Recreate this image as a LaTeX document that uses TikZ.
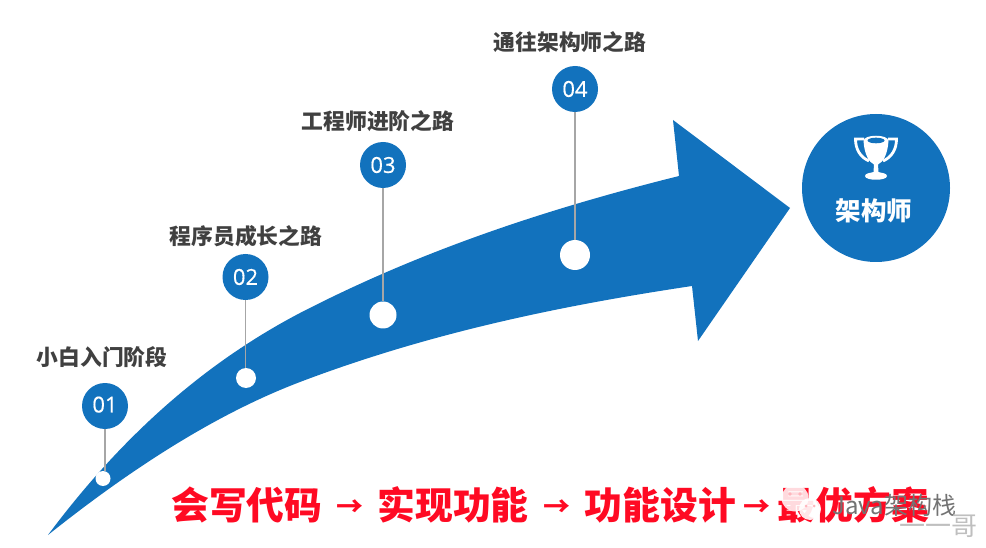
\documentclass[tikz,border=0pt]{standalone}
\usepackage{fontspec}
\setmainfont{Noto Sans CJK SC}
\newfontfamily\numfont[FakeBold=0.4]{Open Sans}
\usetikzlibrary{positioning, calc}
\definecolor{roadblue}{HTML}{1272BD}
\definecolor{roadred}{HTML}{FF0A23}
\definecolor{labelgray}{HTML}{404040}
\newcommand{\roadarrow}[1]{\makebox[#1]{\raisebox{3pt}{\fontsize{27}{27}\selectfont→}}}
\tikzset{
  numdot/.style  = {circle, fill=roadblue, text=white, minimum size=46pt, inner sep=0pt,
                    font=\fontsize{22}{22}\selectfont\numfont},
  stopdot/.style = {circle, fill=white, inner sep=0pt},
  stem/.style    = {draw=black!35, line width=1.7pt},
  stage/.style   = {font=\fontsize{21.8}{22}\selectfont\bfseries, text=labelgray, inner sep=0pt},
  goal/.style    = {circle, fill=roadblue, minimum size=148pt, inner sep=0pt},
  slogan/.style  = {font=\fontsize{37.8}{38}\selectfont\bfseries, text=roadred, inner sep=0pt}
}
\begin{document}
\begin{tikzpicture}[x=1pt, y=-1pt]
\useasboundingbox (0,0) rectangle (986,548);
\fill[roadblue] (48,535) .. controls (130,425) and (216,357) .. (300,313)
  .. controls (426,248) and (553,207.5) .. (679,176)
  -- (673,120) -- (790,208) -- (698,341) -- (692,286)
  .. controls (562,305.5) and (430,332.6) .. (300,382)
  .. controls (216,414) and (132,468) .. cycle;
\node[numdot] (n1) at (105,406) {\raisebox{3pt}{01}};
\node[numdot] (n2) at (245.5,277) {02};
\node[numdot] (n3) at (383,165) {03};
\node[numdot] (n4) at (575,89) {04};
\node[stopdot, minimum size=15pt] (d1) at (103,478.5) {};
\node[stopdot, minimum size=20pt] (d2) at (246,378) {};
\node[stopdot, minimum size=27pt] (d3) at (383,315) {};
\node[stopdot, minimum size=30pt] (d4) at (575,255) {};
\draw[stem] (n1) -- (n1 |- d1.north);
\draw[stem] (n2) -- (n2 |- d2.north);
\draw[stem] (n3) -- (d3);
\draw[stem] (n4) -- (d4);
\node[stage] (s1) at (102,357) {小白入门阶段};
\node[stage] (s2) at (246,236) {程序员成长之路};
\node[stage] (s3) at (378,121) {工程师进阶之路};
\node[stage] (s4) at (570,42) {通往架构师之路};
\node[goal] (arch) at (876,188) {};
\node[font=\fontsize{25.5}{26}\selectfont\bfseries, text=white, inner sep=0pt] (archname) at (874,211) {架构师};
\draw[white, line width=2.8pt] (864,139) -- (855.5,139) .. controls (855.5,149) and (860,157) .. (869,161);
\draw[white, line width=2.8pt] (888,139) -- (896.5,139) .. controls (896.5,149) and (892,157) .. (883,161);
\fill[white] (863.5,141) .. controls (864.5,155) and (869,162) .. (874,164.5) -- (873.5,172)
  .. controls (871,173) and (865,173) .. (865,176) .. controls (865,181) and (887,181) .. (887,176)
  .. controls (887,173) and (881,173) .. (878.5,172) -- (878,164.5)
  .. controls (883,162) and (887.5,155) .. (888.5,141) .. controls (888.5,134) and (863.5,134) .. (863.5,141) -- cycle;
\fill[roadblue] (876,140.5) ellipse (8.5 and 2.8);
\node[slogan, anchor=west] (road) at (171,505) {会写代码\roadarrow{55pt}实现功能\roadarrow{56pt}功能设计\roadarrow{42pt}最优方案};
\fill[white, opacity=.85] (795,498) circle (13.5);
\fill[white, opacity=.9] (810,509) circle (11);
\fill[roadred!30] (790,494) circle (1.8) (800,494) circle (1.8) (806,506) circle (1.5) (814,506) circle (1.5);
\node[font=\fontsize{24}{24}\selectfont, text=black!55, anchor=west, inner sep=0pt] (wm) at (832,505) {Java架构栈};
\node[font=\fontsize{26}{26}\selectfont, text=black!25, anchor=east, inner sep=0pt] (wmname) at (978,526) {一一哥};
\end{tikzpicture}
\end{document}
